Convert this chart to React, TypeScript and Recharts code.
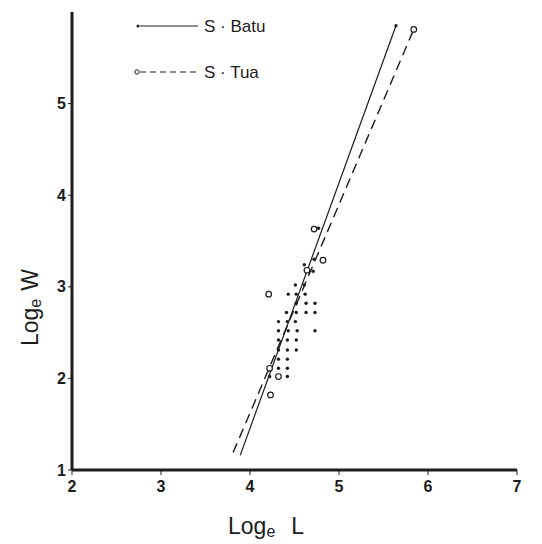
import React from "react";
import { ScatterChart, Scatter, XAxis, YAxis } from "recharts";

// log length / log weight readings
const batuX = [4.77, 4.72, 4.61, 4.71, 4.51, 4.61, 4.43, 4.52, 4.62, 4.52, 4.63, 4.73, 4.41, 4.52, 4.63, 4.73, 4.32, 4.42, 4.51, 4.32, 4.43, 4.53, 4.73, 4.32, 4.42, 4.52, 4.32, 4.42, 4.52, 4.32, 4.42, 4.32, 4.42, 4.22, 4.42, 5.64];
const batuY = [3.64, 3.3, 3.24, 3.17, 3.02, 3.02, 2.92, 2.92, 2.92, 2.82, 2.82, 2.82, 2.72, 2.72, 2.72, 2.72, 2.62, 2.62, 2.62, 2.52, 2.52, 2.52, 2.52, 2.42, 2.42, 2.42, 2.31, 2.31, 2.31, 2.21, 2.21, 2.11, 2.11, 2.02, 2.02, 5.85];
const tuaX = [4.72, 4.82, 4.64, 4.21, 4.22, 4.32, 4.23, 5.84];
const tuaY = [3.63, 3.29, 3.18, 2.92, 2.11, 2.02, 1.82, 5.81];

// fitted regression lines (end points)
const batuLineX = [3.89, 5.64];
const batuLineY = [1.16, 5.85];
const tuaLineX = [3.81, 5.84];
const tuaLineY = [1.19, 5.81];

const xTicks = [2, 3, 4, 5, 6, 7];
const yTicks = [1, 2, 3, 4, 5];

const zip = (xs: number[], ys: number[]) => xs.map((x, i) => ({ x, y: ys[i] }));

const ink = "#1c1c1c";
const font = "'Liberation Sans', Arial, sans-serif";

const Dot = (p: any) => <circle cx={p.cx} cy={p.cy} r={1.7} fill={ink} />;
const Ring = (p: any) => <circle cx={p.cx} cy={p.cy} r={2.8} fill="#fff" stroke={ink} strokeWidth={1.2} />;
const Nothing = () => <g />;

export default function App() {
  const tick = { fill: ink, fontSize: 16, fontWeight: 700, fontFamily: font };
  return (
    <div style={{ position: "relative", width: 526, height: 534, background: "#fff" }}>
      <ScatterChart width={526} height={528} margin={{ top: 4, right: 17, bottom: 36, left: 24 }}>
        <XAxis
          type="number"
          dataKey="x"
          domain={[2, 7]}
          ticks={xTicks}
          height={30}
          tick={tick}
          tickSize={5}
          tickMargin={6}
          stroke={ink}
          axisLine={{ stroke: ink, strokeWidth: 3 }}
          tickLine={{ stroke: ink, strokeWidth: 1 }}
        />
        <YAxis
          type="number"
          dataKey="y"
          domain={[1, 6]}
          ticks={yTicks}
          width={40}
          tick={tick}
          tickSize={4}
          stroke={ink}
          axisLine={{ stroke: ink, strokeWidth: 3 }}
          tickLine={{ stroke: ink, strokeWidth: 1 }}
        />
        <Scatter
          data={zip(batuLineX, batuLineY)}
          line={{ stroke: ink, strokeWidth: 1.2 }}
          shape={Nothing}
          isAnimationActive={false}
        />
        <Scatter
          data={zip(tuaLineX, tuaLineY)}
          line={{ stroke: ink, strokeWidth: 1.4, strokeDasharray: "10 6" }}
          shape={Nothing}
          isAnimationActive={false}
        />
        <Scatter data={zip(batuX, batuY)} shape={Dot} isAnimationActive={false} />
        <Scatter data={zip(tuaX, tuaY)} shape={Ring} isAnimationActive={false} />
      </ScatterChart>
      <svg
        width={526}
        height={534}
        style={{ position: "absolute", left: 0, top: 0, pointerEvents: "none", fontFamily: font }}
      >
        <g transform="translate(126 6)">
          <circle cx={4} cy={12} r={1.5} fill={ink} />
          <line x1={6} y1={12} x2={64} y2={12} stroke={ink} strokeWidth={1.2} />
          <text x={70} y={18} fontSize={17} fill={ink}>S · Batu</text>
          <circle cx={3} cy={58} r={2.2} fill="#fff" stroke={ink} strokeWidth={1} />
          <line x1={6} y1={58} x2={64} y2={58} stroke={ink} strokeWidth={1.2} strokeDasharray="6 4" />
          <text x={70} y={64} fontSize={17} fill={ink}>S · Tua</text>
        </g>
        <text x={220} y={526} fontSize={23} fill={ink}>
          Log<tspan fontSize={16} dy={3}>e</tspan>
          <tspan dy={-3} dx={16}>L</tspan>
        </text>
        <text x={0} y={0} fontSize={23} fill={ink} transform="translate(30 338) rotate(-90)">
          Log<tspan fontSize={16} dy={3}>e</tspan>
          <tspan dy={-3} dx={8}>W</tspan>
        </text>
      </svg>
    </div>
  );
}
